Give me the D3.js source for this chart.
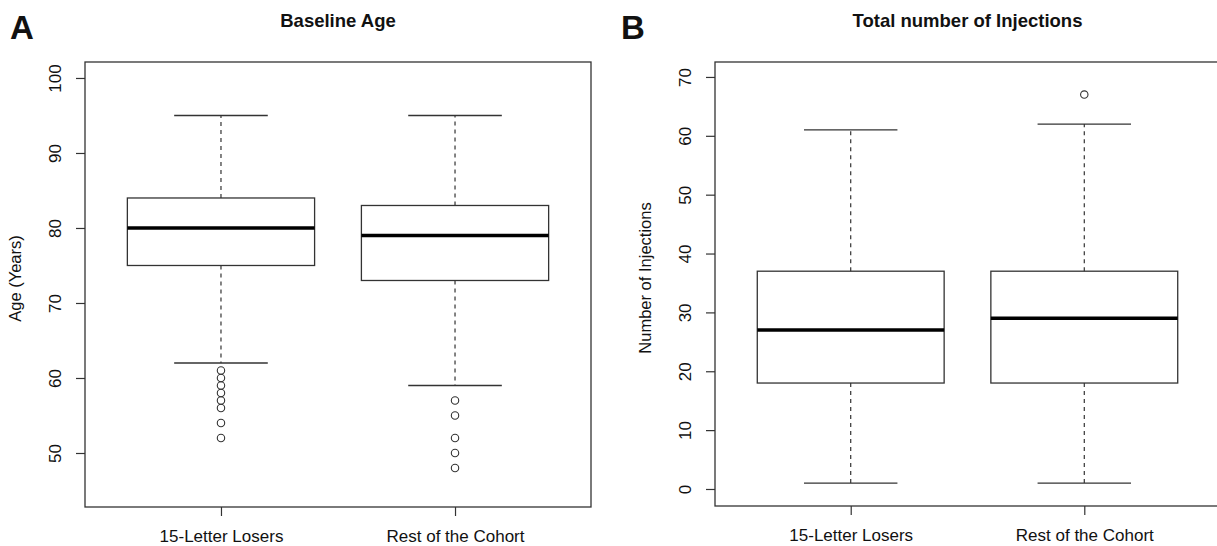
<!DOCTYPE html>
<html>
<head>
<meta charset="utf-8">
<title>Baseline Age / Injections</title>
<script src="https://cdn.jsdelivr.net/npm/d3@7/dist/d3.min.js"></script>
<style>
    body { margin: 0; background: #fff; }
    text { font-family: "Liberation Sans", Arial, sans-serif; fill: #111; }
    .panel-title { font-weight: bold; font-size: 18.5px; }
    .panel-letter { font-weight: bold; font-size: 33px; }
    .tick text { font-size: 17px; }
    .tick line { stroke: #333; stroke-width: 1.2; }
</style>
</head>
<body>
<div id="chart"></div>
<script>
// groups shown on the x axis (same for both panels)
var groups = ['15-Letter Losers', 'Rest of the Cohort'];

// panel A: baseline age, five-number summaries
var ageLow = [62, 59];
var ageQ1 = [75, 73];
var ageMedian = [80, 79];
var ageQ3 = [84, 83];
var ageHigh = [95, 95];
var ageOutliers = [
    [61, 60, 59, 58, 57, 56, 54, 52],
    [57, 55, 52, 50, 48]
];
var ageTicks = [50, 60, 70, 80, 90, 100];

// panel B: total number of injections
var injLow = [1, 1];
var injQ1 = [18, 18];
var injMedian = [27, 29];
var injQ3 = [37, 37];
var injHigh = [61, 62];
var injOutliers = [[], [67]];
var injTicks = [0, 10, 20, 30, 40, 50, 60, 70];

var width = 1217, height = 546;

var svg = d3.select('#chart').append('svg')
    .attr('width', width)
    .attr('height', height);

function drawPanel(opt) {
    var x = d3.scalePoint()
        .domain(groups)
        .range([opt.left, opt.right])
        .padding(0.581);
    var y = d3.scaleLinear()
        .domain(opt.yDomain)
        .range([opt.bottom, opt.top]);

    var g = svg.append('g');
    var step = x.step();
    var boxW = step * 0.8;
    var stapleW = boxW * 0.5;

    var stats = groups.map(function(name, i) {
        return {
            name: name,
            low: opt.low[i], q1: opt.q1[i], med: opt.median[i],
            q3: opt.q3[i], high: opt.high[i], out: opt.outliers[i]
        };
    });

    var box = g.selectAll('.box').data(stats).enter().append('g').attr('class', 'box');

    // dashed whiskers
    box.append('line')
        .attr('x1', function(d) { return x(d.name); })
        .attr('x2', function(d) { return x(d.name); })
        .attr('y1', function(d) { return y(d.q3); })
        .attr('y2', function(d) { return y(d.high); })
        .attr('stroke', '#333').attr('stroke-width', 1.2)
        .attr('stroke-dasharray', '4,4');
    box.append('line')
        .attr('x1', function(d) { return x(d.name); })
        .attr('x2', function(d) { return x(d.name); })
        .attr('y1', function(d) { return y(d.q1); })
        .attr('y2', function(d) { return y(d.low); })
        .attr('stroke', '#333').attr('stroke-width', 1.2)
        .attr('stroke-dasharray', '4,4');

    // staples
    ['high', 'low'].forEach(function(k) {
        box.append('line')
            .attr('x1', function(d) { return x(d.name) - stapleW / 2; })
            .attr('x2', function(d) { return x(d.name) + stapleW / 2; })
            .attr('y1', function(d) { return y(d[k]); })
            .attr('y2', function(d) { return y(d[k]); })
            .attr('stroke', '#333').attr('stroke-width', 1.3);
    });

    box.append('rect')
        .attr('x', function(d) { return x(d.name) - boxW / 2; })
        .attr('width', boxW)
        .attr('y', function(d) { return y(d.q3); })
        .attr('height', function(d) { return y(d.q1) - y(d.q3); })
        .attr('fill', 'none')
        .attr('stroke', '#333').attr('stroke-width', 1.3);

    box.append('line')
        .attr('x1', function(d) { return x(d.name) - boxW / 2; })
        .attr('x2', function(d) { return x(d.name) + boxW / 2; })
        .attr('y1', function(d) { return y(d.med); })
        .attr('y2', function(d) { return y(d.med); })
        .attr('stroke', '#000').attr('stroke-width', 3.4);

    box.selectAll('circle')
        .data(function(d) { return d.out.map(function(v) { return { name: d.name, v: v }; }); })
        .enter().append('circle')
        .attr('cx', function(d) { return x(d.name); })
        .attr('cy', function(d) { return y(d.v); })
        .attr('r', 3.7)
        .attr('fill', 'none')
        .attr('stroke', '#333').attr('stroke-width', 1.1);

    // plot frame
    g.append('rect')
        .attr('x', opt.left).attr('y', opt.top)
        .attr('width', opt.right - opt.left)
        .attr('height', opt.bottom - opt.top)
        .attr('fill', 'none')
        .attr('stroke', '#333').attr('stroke-width', 1.3);

    // y axis, labels parallel to the axis like R
    var yAxis = g.append('g')
        .attr('transform', 'translate(' + opt.left + ',0)')
        .call(d3.axisLeft(y).tickValues(opt.ticks).tickSize(9).tickSizeOuter(0));
    yAxis.select('.domain').remove();
    yAxis.selectAll('.tick text')
        .attr('x', 0).attr('dy', '0.36em')
        .attr('text-anchor', 'middle')
        .attr('transform', 'translate(-30,0) rotate(-90)');

    var xAxis = g.append('g')
        .attr('transform', 'translate(0,' + opt.bottom + ')')
        .call(d3.axisBottom(x).tickSize(9).tickSizeOuter(0).tickPadding(14));
    xAxis.select('.domain').remove();

    g.append('text')
        .attr('transform', 'translate(' + (opt.left - 70) + ',' + ((opt.top + opt.bottom) / 2 - 6) + ') rotate(-90)')
        .attr('text-anchor', 'middle')
        .attr('dy', '0.36em')
        .style('font-size', '16.5px')
        .text(opt.yLabel);

    g.append('text')
        .attr('class', 'panel-title')
        .attr('x', (opt.left + opt.right) / 2)
        .attr('y', 27)
        .attr('text-anchor', 'middle')
        .text(opt.title);

    g.append('text')
        .attr('class', 'panel-letter')
        .attr('x', opt.letterX)
        .attr('y', 39)
        .text(opt.letter);
}

drawPanel({
    left: 85, right: 591, top: 62, bottom: 507,
    yDomain: [42.8, 102.13],
    low: ageLow, q1: ageQ1, median: ageMedian, q3: ageQ3, high: ageHigh,
    outliers: ageOutliers, ticks: ageTicks,
    yLabel: 'Age (Years)', title: 'Baseline Age',
    letter: 'A', letterX: 10
});

drawPanel({
    left: 715, right: 1220, top: 62, bottom: 506,
    yDomain: [-2.89, 72.54],
    low: injLow, q1: injQ1, median: injMedian, q3: injQ3, high: injHigh,
    outliers: injOutliers, ticks: injTicks,
    yLabel: 'Number of Injections', title: 'Total number of Injections',
    letter: 'B', letterX: 621
});
</script>
</body>
</html>
